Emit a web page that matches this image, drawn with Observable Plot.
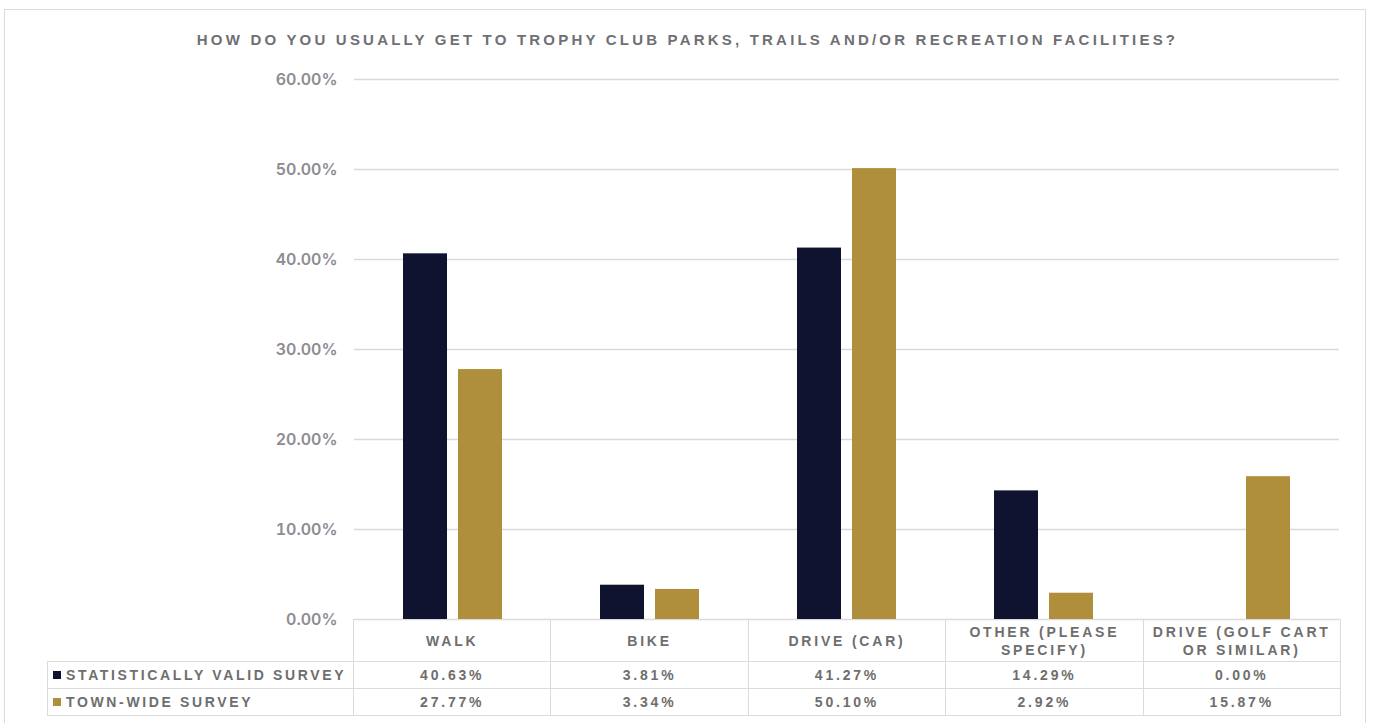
<!DOCTYPE html>
<html><head><meta charset="utf-8">
<script src="https://cdn.jsdelivr.net/npm/d3@7"></script>
<script src="https://cdn.jsdelivr.net/npm/@observablehq/plot@0.6"></script>
<style>
body{margin:0;background:#fff;font-family:"Liberation Sans",Arial,sans-serif;}
#frame{position:absolute;left:4px;top:9px;width:1362px;height:730px;border:1.5px solid #dcdcdc;box-sizing:border-box;}
#title{position:absolute;left:0;top:31px;width:1375px;text-align:center;font-size:15px;font-weight:bold;letter-spacing:3.2px;color:#6f6f74;white-space:nowrap;}
#chart{position:absolute;left:0;top:0;}
#chart svg [aria-label="y-axis tick label"] text{font-weight:600;font-family:Inter,"Liberation Sans",sans-serif;}
#tbl{position:absolute;left:47px;top:619px;border-collapse:collapse;table-layout:fixed;}
#tbl td{border:1.5px solid #dcdcdc;text-align:center;padding:0;color:#6e6e6e;font-weight:bold;letter-spacing:2.8px;font-size:14px;white-space:pre-line;}
#tbl tr.hdr td{height:41px;line-height:18px;}
#tbl tr.row td{height:26px;line-height:16px;}
#tbl td.corner{border-top-style:hidden;border-left-style:hidden;}
#tbl td.lab{text-align:left;padding-left:18px;position:relative;letter-spacing:2.65px;}
#tbl td.lab span.key{position:absolute;left:5px;top:9px;width:8px;height:8px;}
</style>
</head><body>
<div id="frame"></div>
<div id="chart"></div>
<div id="title"></div>
<table id="tbl"></table>
<script>
const titleText = "HOW DO YOU USUALLY GET TO TROPHY CLUB PARKS, TRAILS AND/OR RECREATION FACILITIES?";
const categories = ["WALK", "BIKE", "DRIVE (CAR)", "OTHER (PLEASE SPECIFY)", "DRIVE (GOLF CART OR SIMILAR)"];
const headerLabels = ["WALK", "BIKE", "DRIVE (CAR)", "OTHER (PLEASE\nSPECIFY)", "DRIVE (GOLF CART\nOR SIMILAR)"];
const seriesNames = ["STATISTICALLY VALID SURVEY", "TOWN-WIDE SURVEY"];
const seriesColors = ["#10132f", "#b08f3c"];
const statValid = [40.63, 3.81, 41.27, 14.29, 0.00];
const townWide = [27.77, 3.34, 50.10, 2.92, 15.87];
const yTicks = [0, 10, 20, 30, 40, 50, 60];

document.getElementById("title").textContent = titleText;

const seriesValues = [statValid, townWide];
const data = [];
categories.forEach((c, i) => {
  seriesNames.forEach((s, j) => data.push({category: c, series: s, value: seriesValues[j][i]}));
});

const chart = Plot.plot({
  width: 1375,
  height: 640,
  marginLeft: 353,
  marginRight: 35,
  marginTop: 79,
  marginBottom: 21,
  style: {fontFamily: "Liberation Sans, Arial, sans-serif", background: "transparent"},
  fx: {domain: categories, padding: 0, axis: null, label: null},
  x: {domain: seriesNames, paddingInner: 0.196, paddingOuter: 0.86, axis: null},
  y: {domain: [0, 60], axis: null},
  color: {domain: seriesNames, range: seriesColors},
  marks: [
    Plot.gridY(yTicks, {stroke: "#d9d9d9", strokeOpacity: 1, strokeWidth: 1.5}),
    Plot.axisY(yTicks, {tickSize: 0, tickPadding: 17, fontSize: 16, fill: "#8c8c91",
      tickFormat: d => d.toFixed(2) + "%", label: null}),
    Plot.barY(data, {fx: "category", x: "series", y: "value", fill: "series"})
  ]
});
document.getElementById("chart").appendChild(chart);

// data table below the chart
const tbl = document.getElementById("tbl");
const colW = [306, 197.4, 197.4, 197.4, 197.4, 197.4];
const cg = document.createElement("colgroup");
colW.forEach(w => { const c = document.createElement("col"); c.style.width = w + "px"; cg.appendChild(c); });
tbl.appendChild(cg);
const hr = document.createElement("tr"); hr.className = "hdr";
const corner = document.createElement("td"); corner.className = "corner"; hr.appendChild(corner);
headerLabels.forEach(h => { const td = document.createElement("td"); td.textContent = h; hr.appendChild(td); });
tbl.appendChild(hr);
seriesNames.forEach((s, j) => {
  const tr = document.createElement("tr"); tr.className = "row";
  const lab = document.createElement("td"); lab.className = "lab";
  const key = document.createElement("span"); key.className = "key"; key.style.background = seriesColors[j];
  lab.appendChild(key); lab.appendChild(document.createTextNode(s));
  tr.appendChild(lab);
  seriesValues[j].forEach(v => { const td = document.createElement("td"); td.textContent = v.toFixed(2) + "%"; tr.appendChild(td); });
  tbl.appendChild(tr);
});
</script>
</body></html>
